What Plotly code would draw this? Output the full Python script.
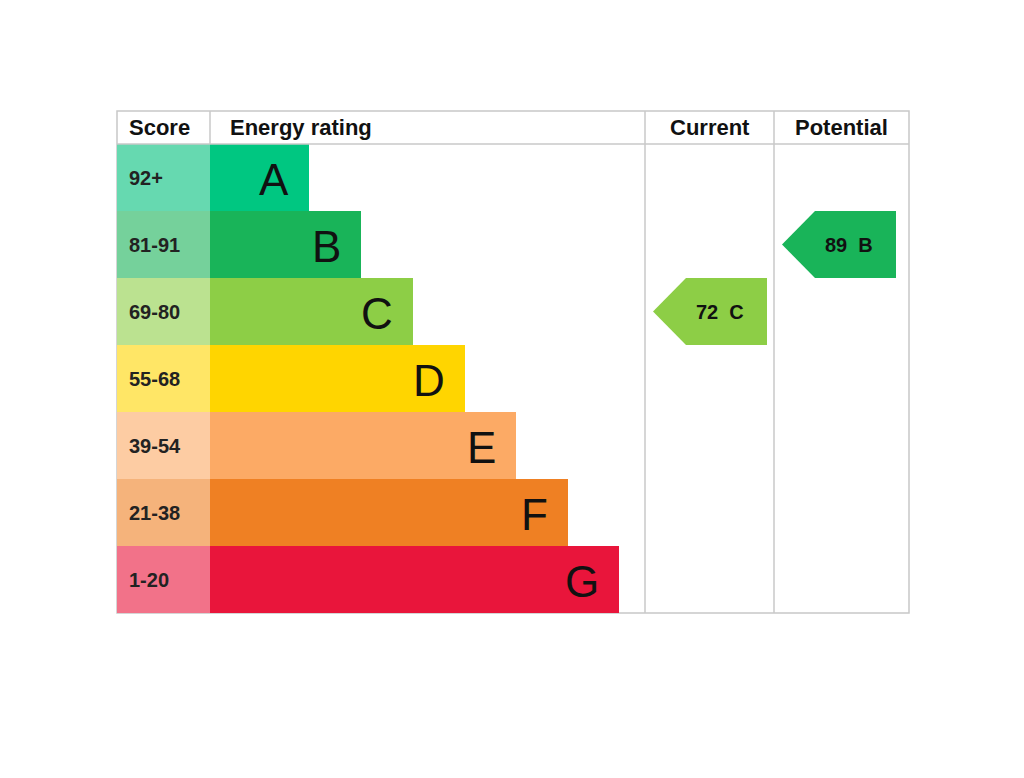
import plotly.graph_objects as go

bands = ["A", "B", "C", "D", "E", "F", "G"]
scores = ["92+", "81-91", "69-80", "55-68", "39-54", "21-38", "1-20"]
lows = [92, 81, 69, 55, 39, 21, 1]
bar_len = [99, 151, 203, 255, 306, 358, 409]
colors = ["#00c781", "#19b459", "#8dce46", "#ffd500", "#fcaa65", "#ef8023", "#e9153b"]
score_colors = ["#66d9b0", "#75d19b", "#bbe290", "#ffe666", "#fdcca3", "#f5b37b", "#f27289"]
current = 72
potential = 89

L, R, TOP, HEAD, ROW = 109, 901, 103, 33, 67
SC_R, BAR_L, CUR_L, POT_L = 202, 202, 637, 766
y0 = TOP + HEAD
centers = [y0 + ROW * (i + 0.5) for i in range(len(bands))]

def band_of(v):
    for i, lo in enumerate(lows):
        if v >= lo:
            return i
    return len(lows) - 1

fig = go.Figure()
fig.add_trace(go.Bar(y=centers, x=[SC_R - L] * 7, base=L, orientation="h", width=ROW,
                     marker=dict(color=score_colors, line_width=0), hoverinfo="skip"))
fig.add_trace(go.Bar(y=centers, x=bar_len, base=BAR_L, orientation="h", width=ROW,
                     marker=dict(color=colors, line_width=0), hoverinfo="skip"))

ann = []
for i, b in enumerate(bands):
    ann.append(dict(x=BAR_L + bar_len[i] - 18, y=centers[i], text=b, showarrow=False,
                    xanchor="right", font=dict(size=44, color="#111", family="Liberation Sans"),
                    yshift=-2))
    ann.append(dict(x=L + 10, y=centers[i], text=f"<b>{scores[i]}</b>", showarrow=False,
                    xanchor="left", font=dict(size=20, color="#222", family="Liberation Sans")))

def arrow(v, left, right):
    i = band_of(v)
    t, btm = y0 + ROW * i, y0 + ROW * (i + 1)
    c = (t + btm) / 2
    tip = left + 8
    xs = [tip, tip + 33, right, right, tip + 33, tip]
    ys = [c, t, t, btm, btm, c]
    fig.add_trace(go.Scatter(x=xs, y=ys, fill="toself", fillcolor=colors[i], mode="lines",
                             line=dict(width=0, color=colors[i]), hoverinfo="skip"))
    ann.append(dict(x=(tip + right) / 2 + 10, y=c, text=f"<b>{v}  {bands[i]}</b>", showarrow=False,
                    font=dict(size=20, color="#111", family="Liberation Sans")))

arrow(current, CUR_L, 759)
arrow(potential, POT_L, 888)

for x, txt, anc in [(L + 10, "Score", "left"), (SC_R + 18, "Energy rating", "left"),
                    ((CUR_L + POT_L) / 2, "Current", "center"), ((POT_L + R) / 2, "Potential", "center")]:
    ann.append(dict(x=x, y=TOP + HEAD / 2, text=f"<b>{txt}</b>", showarrow=False, xanchor=anc,
                    font=dict(size=22, color="#111", family="Liberation Sans")))

bottom = y0 + ROW * 7
ln = dict(color="#c8c8c8", width=1.5)
shapes = [dict(type="rect", x0=L, x1=R, y0=TOP, y1=bottom, line=ln, layer="below"),
          dict(type="line", x0=L, x1=R, y0=y0, y1=y0, line=ln),
          dict(type="line", x0=SC_R, x1=SC_R, y0=TOP, y1=y0, line=ln),
          dict(type="line", x0=CUR_L, x1=CUR_L, y0=TOP, y1=bottom, line=ln),
          dict(type="line", x0=POT_L, x1=POT_L, y0=TOP, y1=bottom, line=ln)]

fig.update_layout(width=1024, height=778, margin=dict(l=0, r=0, t=0, b=0),
                  paper_bgcolor="white", plot_bgcolor="white", showlegend=False,
                  barmode="overlay", annotations=ann, shapes=shapes,
                  xaxis=dict(range=[0, 1024], visible=False, fixedrange=True),
                  yaxis=dict(range=[778, 0], visible=False, fixedrange=True))
fig.write_html("out.html")
